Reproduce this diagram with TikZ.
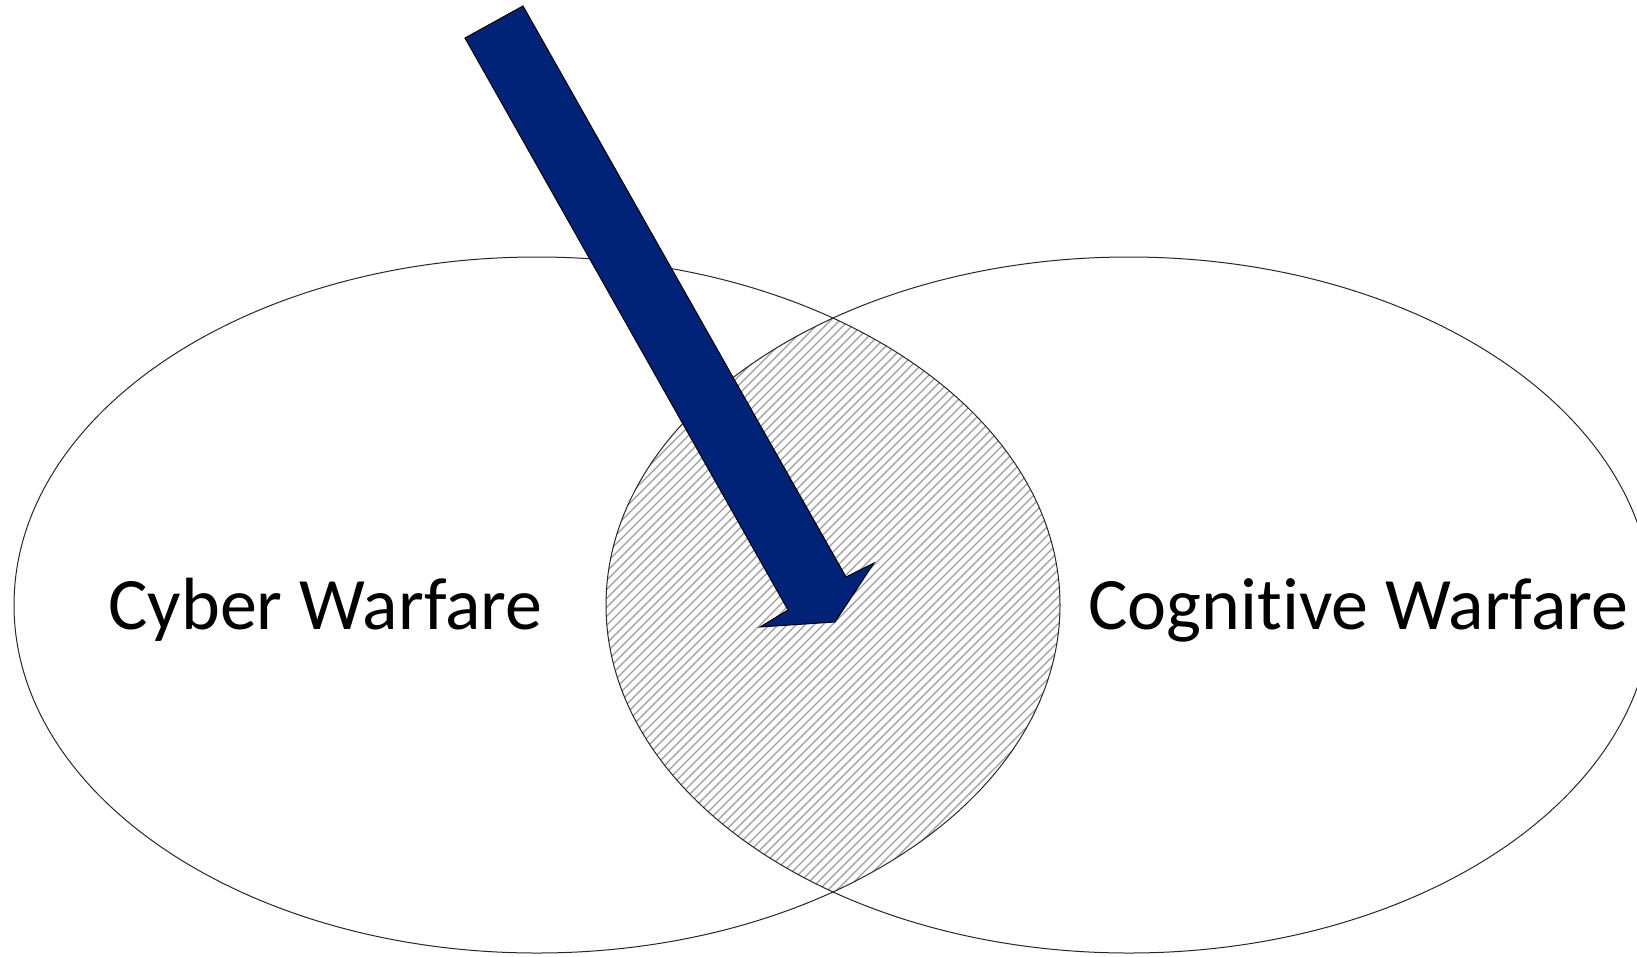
\documentclass[tikz,border=0pt]{standalone}
\usepackage{fontspec}
\setmainfont{Carlito}[Ligatures=NoCommon]
\usepackage{tikz}
\definecolor{arrowblue}{RGB}{0,35,120}
\definecolor{hatchgray}{RGB}{155,155,155}

\begin{document}
\begin{tikzpicture}[x=1pt,y=-1pt,
  ellipseline/.style={draw=black!85,line width=1pt},
  hatchline/.style={draw=hatchgray,line width=1.3pt},
  warlabel/.style={anchor=base west,inner sep=0pt,font=\fontsize{74}{82}\selectfont},
  bigarrow/.style={fill=arrowblue,draw=black,line width=1pt,line join=miter}]
\useasboundingbox (0,0) rectangle (1637,956);
% overlap
\begin{scope}
\clip (537,605) ellipse [x radius=523pt, y radius=348pt];
\clip (1129,605) ellipse [x radius=523pt, y radius=348pt];
\foreach \c in {800,809,...,2100}
  \draw[hatchline] (\c,0) -- (\c-1000,1000);
\end{scope}
% outline
\draw[ellipseline] (537,605) ellipse [x radius=523pt, y radius=348pt];
\draw[ellipseline] (1129,605) ellipse [x radius=523pt, y radius=348pt];
% arrow
\draw[bigarrow] (465,38) -- (523,6) -- (846,577) -- (874,563)
  -- (835,622) -- (760,627) -- (788,610) -- cycle;
% labels
\node[warlabel] (cyber) at (108,629) {Cyber Warfare};
\node[warlabel] (cognitive) at (1088,629) {Cognitive Warfare};
\end{tikzpicture}
\end{document}
